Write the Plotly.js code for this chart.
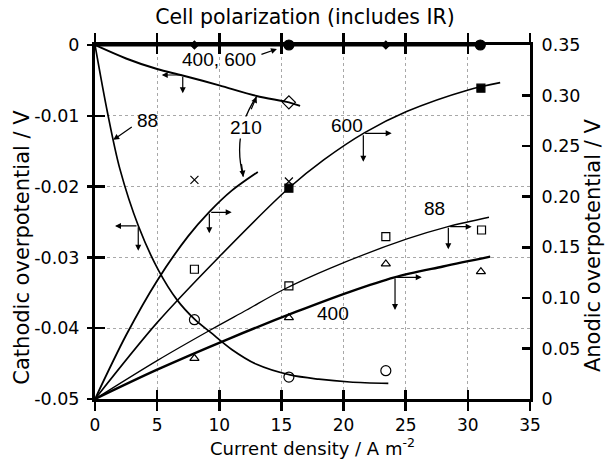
<!DOCTYPE html>
<html>
<head>
<meta charset="utf-8">
<script src="https://cdn.plot.ly/plotly-3.0.1.min.js"></script>
<style>
  html, body { margin: 0; padding: 0; background: #fff; }
  #chart { width: 610px; height: 460px; }
</style>
</head>
<body>
<div id="chart"></div>
<script>
// Current density ticks (A m^-2)
const xTicks = [0, 5, 10, 15, 20, 25, 30, 35];
const cathTicks = [-0.05, -0.04, -0.03, -0.02, -0.01, 0];
const cathTickText = ['-0.05', '-0.04', '-0.03', '-0.02', '-0.01', '0'];
const anodTicks = [0, 0.05, 0.10, 0.15, 0.20, 0.25, 0.30, 0.35];
const anodTickText = ['0', '0.05', '0.10', '0.15', '0.20', '0.25', '0.30', '0.35'];

// Cathodic overpotential curves (left axis), labelled by rotation speed
const cath400_600X = [0, 31];
const cath400_600Y = [0, 0];
const cath210X = [0, 2.5, 5, 7.05, 10, 13, 15.6, 16.5];
const cath210Y = [0, -0.0019, -0.0034, -0.0043, -0.0057, -0.0072, -0.0081, -0.0086];
const cath88X = [0, 1, 2, 3.5, 5.1, 6.6, 8.05, 9.3, 11, 13, 15.7, 18, 20.5, 23.6];
const cath88Y = [0, -0.0095, -0.0175, -0.0256, -0.0318, -0.036, -0.0388, -0.0406, -0.043, -0.0451, -0.0466, -0.0472, -0.0476, -0.0478];

// Cathodic measured points
const pt400cX = [8, 23.4];
const pt400cY = [0, 0];
const pt600cX = [15.6, 31];
const pt600cY = [0, 0];
const pt210cX = [15.6];
const pt210cY = [-0.0081];
const pt88cX = [8, 15.6, 23.4];
const pt88cY = [-0.0388, -0.0469, -0.046];

// Anodic overpotential curves (right axis)
const an600X = [0, 5, 10, 15.6, 18.4, 21.7, 25.07, 30.03, 32.6];
const an600Y = [0, 0.0755, 0.1407, 0.2086, 0.2364, 0.2634, 0.2842, 0.3056, 0.3128];
const an210X = [0, 2.5, 5, 7.5, 9.2, 11, 13.1];
const an210Y = [0, 0.063, 0.117, 0.161, 0.185, 0.206, 0.2245];
const an88X = [0, 5, 9.25, 12.2, 15.1, 18.9, 25.1, 28.4, 31.7];
const an88Y = [0, 0.038, 0.068, 0.088, 0.1078, 0.1292, 0.1582, 0.1704, 0.1797];
const an400X = [0, 5, 10.86, 16.2, 20.5, 24.1, 28, 31.8];
const an400Y = [0, 0.029, 0.06, 0.0863, 0.106, 0.1203, 0.131, 0.1407];

// Anodic measured points
const pt210aX = [8, 15.6];
const pt210aY = [0.2166, 0.215];
const pt600aX = [15.6, 31.05];
const pt600aY = [0.2084, 0.3073];
const pt88aX = [8, 15.6, 23.4, 31.1];
const pt88aY = [0.1283, 0.1118, 0.1605, 0.1671];
const pt400aX = [8, 15.6, 23.4, 31.05];
const pt400aY = [0.0402, 0.0804, 0.1335, 0.1259];

const FONT = 'Liberation Sans, Arial, Helvetica, sans-serif';
const AXFONT = 'DejaVu Sans, Verdana, sans-serif';

function curve(x, y, yaxis, width) {
  return { x: x, y: y, yaxis: yaxis, type: 'scatter', mode: 'lines',
           line: { color: '#000', width: width, shape: 'spline', smoothing: 0.9 },
           hoverinfo: 'skip', showlegend: false };
}
function points(x, y, yaxis, symbol, size) {
  return { x: x, y: y, yaxis: yaxis, type: 'scatter', mode: 'markers',
           marker: { symbol: symbol, size: size, color: '#000',
                     line: { color: '#000', width: 1.2 } },
           cliponaxis: false, hoverinfo: 'skip', showlegend: false };
}

const traces = [
  curve(cath400_600X, cath400_600Y, 'y', 3),
  curve(cath210X, cath210Y, 'y', 2),
  curve(cath88X, cath88Y, 'y', 1.7),
  curve(an600X, an600Y, 'y2', 1.6),
  curve(an210X, an210Y, 'y2', 1.8),
  curve(an88X, an88Y, 'y2', 1.3),
  curve(an400X, an400Y, 'y2', 2.4),
  points(pt400cX, pt400cY, 'y', 'diamond', 6),
  points(pt600cX, pt600cY, 'y', 'circle', 10),
  points(pt210cX, pt210cY, 'y', 'diamond-open', 10),
  points(pt88cX, pt88cY, 'y', 'circle-open', 10),
  points(pt210aX, pt210aY, 'y2', 'x-thin-open', 8),
  points(pt600aX, pt600aY, 'y2', 'square', 8),
  points(pt88aX, pt88aY, 'y2', 'square-open', 8),
  points(pt400aX, pt400aY, 'y2', 'triangle-up-open', 8)
];

// Guide arrows telling which axis each curve is read on
function arrow(x, y, yref, ax, ay, head) {
  return { x: x, y: y, xref: 'x', yref: yref, text: '', showarrow: true,
           ax: ax, ay: ay, arrowhead: head || 2, arrowsize: 1, arrowwidth: 1.2,
           arrowcolor: '#000' };
}
function label(x, y, yref, text, bg) {
  return { x: x, y: y, xref: 'x', yref: yref, text: text, showarrow: false,
           font: { family: FONT, size: 19, color: '#000' },
           bgcolor: bg ? '#fff' : 'rgba(0,0,0,0)', borderpad: 0 };
}
// rotated axis captions
function sideTitle(x, y, text) {
  return { x: x, y: y, xref: 'paper', yref: 'paper', text: text, showarrow: false,
           textangle: -90, xanchor: 'center', yanchor: 'middle',
           font: { family: AXFONT, size: 21, color: '#000' } };
}

const annotations = [
  // 210 cathodic
  arrow(5.37, -0.00424, 'y', 21, 0), arrow(7.06, -0.0068, 'y', 0, -18),
  // 600 anodic
  arrow(23.87, 0.2627, 'y2', -28, 0), arrow(21.59, 0.2346, 'y2', 0, -28),
  // 210 anodic
  arrow(11.0, 0.1846, 'y2', -22, 0), arrow(9.2, 0.1638, 'y2', 0, -21),
  // 88 cathodic
  arrow(1.61, -0.02556, 'y', 23, 0), arrow(3.48, -0.02905, 'y', 0, -25),
  // 88 anodic
  arrow(30.31, 0.1704, 'y2', -23, 0), arrow(28.43, 0.148, 'y2', 0, -23),
  // 400 anodic
  arrow(26.29, 0.1203, 'y2', -27, 0), arrow(24.14, 0.088, 'y2', 0, -33),
  // leaders from curve labels
  arrow(14.64, -0.00056, 'y', -17, 6),
  arrow(1.47, -0.0134, 'y', 20, -14),
  arrow(13.0, -0.0073, 'y', -6, 14),
  arrow(11.93, -0.0186, 'y', -2, -14),
  // curve labels
  label(9.95, -0.00207, 'y', '400, 600', false),
  label(4.26, -0.01073, 'y', '88', false),
  label(12.15, -0.0117, 'y', '210', true),
  label(20.3, 0.2709, 'y2', '600', false),
  label(27.35, 0.1886, 'y2', '88', false),
  label(19.15, 0.085, 'y2', '400', false),
  // axis captions
  sideTitle(-0.168, 0.43, 'Cathodic overpotential / V'),
  sideTitle(1.145, 0.435, 'Anodic overpotential / V')
];

const shapes = [
  // curved double-headed connector for the 210 pair
  { type: 'path', xref: 'x', yref: 'y',
    path: 'M 13.0,-0.0073 Q 11.0,-0.0125 11.93,-0.0186',
    line: { color: '#000', width: 1.3 } }
];

const gridStyle = { showgrid: true, gridcolor: '#a8a8a8', gridwidth: 1, griddash: 'dot' };

const layout = {
  width: 610, height: 460,
  margin: { l: 95, r: 80, t: 45, b: 61 },
  paper_bgcolor: '#fff', plot_bgcolor: '#fff',
  font: { family: AXFONT, size: 16, color: '#000' },
  title: { text: 'Cell polarization (includes IR)', x: 0.5, xref: 'container',
           y: 0.963, yanchor: 'middle', font: { family: AXFONT, size: 20.5, color: '#000' } },
  xaxis: Object.assign({
    range: [0, 35], tickvals: xTicks, ticks: 'outside', ticklen: 9, tickwidth: 2.5,
    tickcolor: '#000', showline: true, linewidth: 3, linecolor: '#000', mirror: 'ticks',
    zeroline: false, tickfont: { family: AXFONT, size: 17 }, automargin: false,
    title: { text: 'Current density / A m<sup>-2</sup>', font: { family: AXFONT, size: 18 }, standoff: 2 }
  }, gridStyle),
  xaxis2: {
    overlaying: 'x', anchor: 'y', range: [0, 35], tickvals: xTicks, ticks: 'inside',
    ticklen: 9, tickwidth: 2.5, tickcolor: '#000', mirror: 'ticks', showline: false,
    showticklabels: false, showgrid: false, zeroline: false
  },
  yaxis: Object.assign({
    range: [-0.05, 0], tickvals: cathTicks, ticktext: cathTickText, ticks: 'outside',
    ticklen: 5, tickwidth: 2.5, tickcolor: '#000', showline: true, linewidth: 3,
    linecolor: '#000', zeroline: false, tickfont: { family: AXFONT, size: 17.5 },
    ticklabelstandoff: 4, automargin: false
  }, gridStyle),
  yaxis3: {
    overlaying: 'y', anchor: 'x', range: [-0.05, 0], tickvals: cathTicks, ticks: 'inside',
    ticklen: 10, tickwidth: 2.5, tickcolor: '#000', showline: false,
    showticklabels: false, showgrid: false, zeroline: false
  },
  yaxis2: {
    overlaying: 'y', side: 'right', anchor: 'x', range: [0, 0.35],
    tickvals: anodTicks, ticktext: anodTickText, ticks: 'inside', ticklen: 8,
    tickwidth: 2.5, tickcolor: '#000', showline: true, linewidth: 3, linecolor: '#000',
    showgrid: false, zeroline: false, tickfont: { family: AXFONT, size: 17.5 },
    ticklabelstandoff: 5, automargin: false
  },
  annotations: annotations,
  shapes: shapes
};

// dummy trace so the overlay tick axes are drawn
traces.push({ x: [0], y: [0], xaxis: 'x2', yaxis: 'y3', type: 'scatter', mode: 'markers',
              marker: { opacity: 0 }, hoverinfo: 'skip', showlegend: false });

Plotly.newPlot('chart', traces, layout, { displayModeBar: false, staticPlot: true });
</script>
</body>
</html>
